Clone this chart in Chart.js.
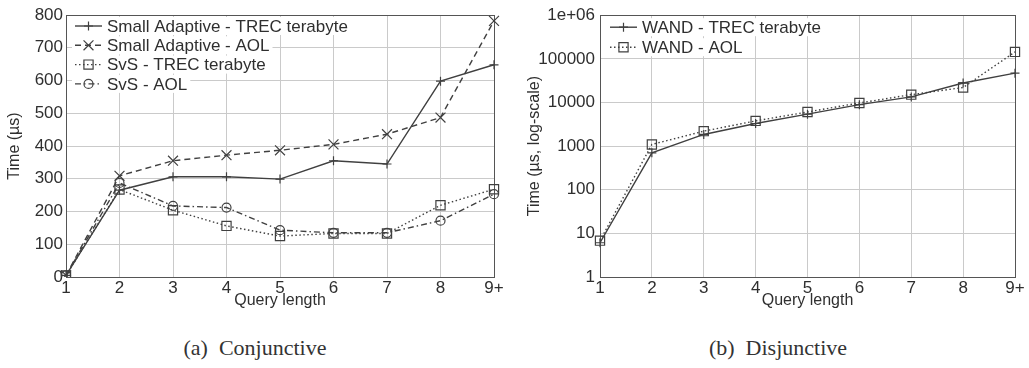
<!DOCTYPE html>
<html>
<head>
<meta charset="utf-8">
<script src="https://cdn.jsdelivr.net/npm/chart.js@4/dist/chart.umd.min.js"></script>
<style>
  html, body { margin: 0; padding: 0; background: #fff; }
  body { width: 1029px; height: 368px; position: relative; overflow: hidden; }
  .box { position: absolute; top: 0; height: 318px; }
  #boxA { left: 0; width: 510px; }
  #boxB { left: 510px; width: 519px; }
  .cap {
    position: absolute; top: 335px; width: 300px; text-align: center;
    font-family: "Liberation Serif", "Times New Roman", serif; font-size: 22px; color: #333;
    white-space: pre;
  }
</style>
</head>
<body>
<div class="box" id="boxA"><canvas id="chartA"></canvas></div>
<div class="box" id="boxB"><canvas id="chartB"></canvas></div>
<div class="cap" style="left:105px">(a)  Conjunctive</div>
<div class="cap" style="left:628px">(b)  Disjunctive</div>
<script>
/* ---------- data ---------- */
const queryLengths = ['1', '2', '3', '4', '5', '6', '7', '8', '9+'];

// (a) conjunctive, time in µs
const smallAdaptiveTrec = [5, 265, 306, 306, 299, 355, 345, 598, 648];
const smallAdaptiveAol  = [5, 309, 355, 372, 387, 405, 436, 487, 782];
const svsTrec           = [5, 267, 204, 156, 125, 133, 133, 219, 268];
const svsAol            = [5, 287, 217, 212, 143, 135, 135, 172, 253];
const linearTicks       = [0, 100, 200, 300, 400, 500, 600, 700, 800];

// (b) disjunctive, time in µs (log scale)
const wandTrec = [6.1, 700, 1850, 3300, 5400, 8900, 13400, 28000, 47000];
const wandAol  = [6.8, 1090, 2200, 3780, 6050, 9750, 15100, 22000, 144000];
const logTickValues = [1, 10, 100, 1000, 10000, 100000, 1000000];
const logTickLabels = ['1', '10', '100', '1000', '10000', '100000', '1e+06'];

/* ---------- look ---------- */
const INK  = '#404040';
const TEXT = '#2f2f2f';
const GRID = '#cacaca';
Chart.defaults.font.family = '"Liberation Sans", Arial, sans-serif';
Chart.defaults.color = TEXT;
Chart.defaults.animation = false;

function series(label, data, style) {
  return Object.assign({
    label, data,
    borderColor: INK, borderWidth: 1.4,
    pointBorderColor: INK, pointBackgroundColor: 'rgba(0,0,0,0)',
    pointBorderWidth: 1.2, pointHoverRadius: 0,
    tension: 0, fill: false
  }, style);
}

const styleSolidPlus = { borderDash: [], pointStyle: 'cross', pointRadius: 4.5 };
const styleDashX     = { borderDash: [6, 4], pointStyle: 'crossRot', pointRadius: 7 };
const styleDotSquare = { borderDash: [1.5, 2.5], pointStyle: 'rect', pointRadius: 6.5 };
const styleDashDotO  = { borderDash: [6, 3, 1.5, 3], pointStyle: 'circle', pointRadius: 4.5 };

// frame around the plot + legend drawn inside the plot (gnuplot style)
const framePlugin = {
  id: 'frame',
  beforeDatasetsDraw(chart) {
    const { ctx, chartArea: a } = chart;
    ctx.save();
    ctx.strokeStyle = '#555';
    ctx.lineWidth = 1;
    ctx.strokeRect(Math.round(a.left) + 0.5, Math.round(a.top) + 0.5,
                   Math.round(a.right - a.left), Math.round(a.bottom - a.top));
    ctx.restore();
  },
  afterDraw(chart, args, opts) {
    const { ctx, chartArea: a } = chart;
    const x0 = a.left + opts.dx, sampleW = 27, gap = 5;
    ctx.save();
    ctx.font = '17px "Liberation Sans", Arial, sans-serif';
    ctx.textBaseline = 'middle';
    chart.data.datasets.forEach((ds, i) => {
      const y = a.top + opts.dy + i * opts.row;
      const w = sampleW + gap + ctx.measureText(ds.label).width;
      ctx.fillStyle = '#fff';
      ctx.fillRect(x0 - 3, y - 9, w + 6, 18);
      ctx.strokeStyle = ds.borderColor;
      ctx.lineWidth = ds.borderWidth;
      ctx.setLineDash(ds.borderDash);
      ctx.beginPath();
      ctx.moveTo(x0, y); ctx.lineTo(x0 + sampleW, y);
      ctx.stroke();
      ctx.setLineDash([]);
      ctx.lineWidth = ds.pointBorderWidth;
      ctx.fillStyle = ds.pointBackgroundColor;
      Chart.helpers.drawPoint(ctx, {
        pointStyle: ds.pointStyle, radius: ds.pointRadius, borderWidth: ds.pointBorderWidth, rotation: 0
      }, x0 + sampleW / 2, y);
      ctx.fillStyle = TEXT;
      ctx.fillText(ds.label, x0 + sampleW + gap, y + 1);
    });
    ctx.restore();
  }
};

function xAxis() {
  return {
    grid: { color: GRID, drawTicks: false },
    border: { display: false },
    ticks: { font: { size: 17 }, padding: 1, maxRotation: 0, autoSkip: false },
    title: { display: true, text: 'Query length', font: { size: 16 }, padding: { top: 0, bottom: 8 } },
    afterFit: (s) => { s.height = 41; }
  };
}

/* ---------- (a) conjunctive ---------- */
new Chart(document.getElementById('chartA'), {
  type: 'line',
  data: {
    labels: queryLengths,
    datasets: [
      series('Small Adaptive - TREC terabyte', smallAdaptiveTrec, styleSolidPlus),
      series('Small Adaptive - AOL', smallAdaptiveAol, styleDashX),
      series('SvS - TREC terabyte', svsTrec, styleDotSquare),
      series('SvS - AOL', svsAol, styleDashDotO)
    ]
  },
  options: {
    responsive: true, maintainAspectRatio: false,
    layout: { padding: { top: 15, right: 16, bottom: 0, left: 0 } },
    plugins: { legend: { display: false }, tooltip: { enabled: false },
               frame: { dx: 9, dy: 11, row: 19.3 } },
    scales: {
      x: xAxis(),
      y: {
        min: linearTicks[0], max: linearTicks[linearTicks.length - 1],
        afterBuildTicks: (s) => { s.ticks = linearTicks.map(v => ({ value: v })); },
        grid: { color: GRID, drawTicks: false },
        border: { display: false },
        ticks: { font: { size: 17 }, padding: 3 },
        title: { display: true, text: 'Time (µs)', font: { size: 16 }, padding: { top: 5, bottom: 0 } },
        afterFit: (s) => { s.width = 66; }
      }
    }
  },
  plugins: [framePlugin]
});

/* ---------- (b) disjunctive ---------- */
new Chart(document.getElementById('chartB'), {
  type: 'line',
  data: {
    labels: queryLengths,
    datasets: [
      series('WAND - TREC terabyte', wandTrec, styleSolidPlus),
      series('WAND - AOL', wandAol, styleDotSquare)
    ]
  },
  options: {
    responsive: true, maintainAspectRatio: false,
    layout: { padding: { top: 15, right: 14, bottom: 0, left: 0 } },
    plugins: { legend: { display: false }, tooltip: { enabled: false },
               frame: { dx: 10, dy: 12, row: 20 } },
    scales: {
      x: xAxis(),
      y: {
        type: 'logarithmic',
        min: logTickValues[0], max: logTickValues[logTickValues.length - 1],
        afterBuildTicks: (s) => { s.ticks = logTickValues.map(v => ({ value: v })); },
        grid: { color: GRID, drawTicks: false },
        border: { display: false },
        ticks: {
          font: { size: 17 }, padding: 5,
          callback: (v) => logTickLabels[logTickValues.indexOf(v)]
        },
        title: { display: true, text: 'Time (µs, log-scale)', font: { size: 16 }, padding: { top: 15, bottom: 0 } },
        afterFit: (s) => { s.width = 90; }
      }
    }
  },
  plugins: [framePlugin]
});
</script>
</body>
</html>
